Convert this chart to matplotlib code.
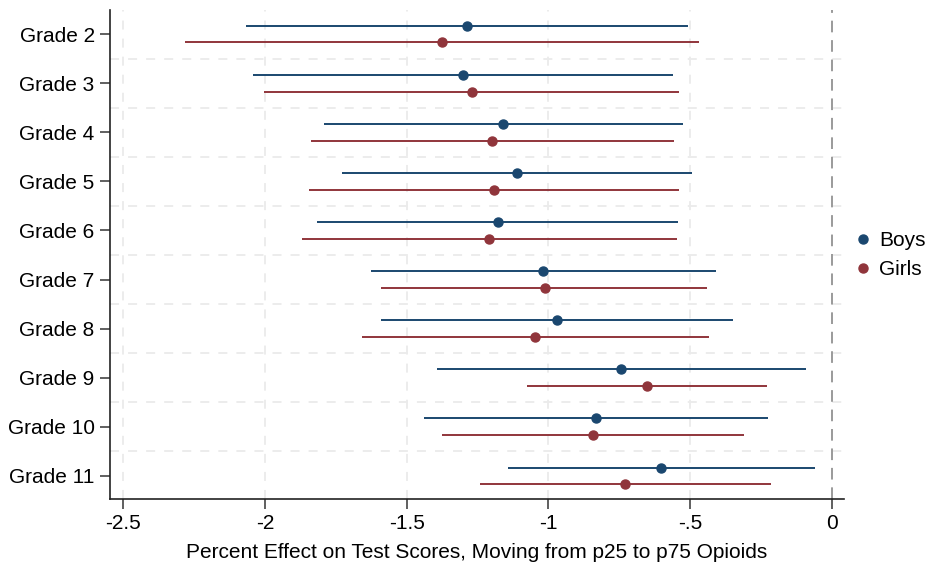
import numpy as np
import matplotlib as mpl
mpl.use('Agg')
import matplotlib.pyplot as plt

plt.rcParams['font.family'] = ['Liberation Sans', 'DejaVu Sans']

grades = ['Grade 2', 'Grade 3', 'Grade 4', 'Grade 5', 'Grade 6',
          'Grade 7', 'Grade 8', 'Grade 9', 'Grade 10', 'Grade 11']

# estimaciones y limites del intervalo
boys_est = [-1.288, -1.303, -1.159, -1.112, -1.179, -1.018, -0.971, -0.743, -0.832, -0.603]
boys_lo = [-2.068, -2.043, -1.791, -1.727, -1.815, -1.627, -1.590, -1.392, -1.438, -1.144]
boys_hi = [-0.507, -0.562, -0.524, -0.495, -0.545, -0.410, -0.350, -0.093, -0.227, -0.061]

girls_est = [-1.376, -1.271, -1.200, -1.193, -1.208, -1.014, -1.046, -0.652, -0.844, -0.730]
girls_lo = [-2.283, -2.002, -1.839, -1.843, -1.869, -1.590, -1.656, -1.074, -1.374, -1.242]
girls_hi = [-0.468, -0.539, -0.558, -0.539, -0.548, -0.440, -0.435, -0.228, -0.311, -0.216]

xticks = [-2.5, -2, -1.5, -1, -0.5, 0]
xticklabels = ['-2.5', '-2', '-1.5', '-1', '-.5', '0']

c_boys = '#1a476f'
c_girls = '#90353b'

fig = plt.figure(figsize=(9.27, 5.63), dpi=100)
ax = fig.add_axes([110/927, 1 - 499/563, (844-110)/927, (499-10)/563])

y = np.arange(len(grades))
off = 0.17

ax.hlines(y - off, boys_lo, boys_hi, color=c_boys, lw=1.4, zorder=3)
ax.plot(boys_est, y - off, 'o', color=c_boys, ms=6.5, zorder=4, label='Boys')
ax.hlines(y + off, girls_lo, girls_hi, color=c_girls, lw=1.4, zorder=3)
ax.plot(girls_est, y + off, 'o', color=c_girls, ms=6.5, zorder=4, label='Girls')

ax.axvline(0, color='#9a9a9a', lw=1.4, ls=(0, (6, 4)), zorder=2)

# rejilla
for xv in xticks[:-1]:
    ax.axvline(xv, color='#ebebeb', lw=1.3, ls=(0, (5, 5)), zorder=1)
for yv in np.arange(0.5, len(grades) - 1, 1.0):
    ax.axhline(yv, color='#ebebeb', lw=1.3, ls=(0, (5, 5)), zorder=1)

ax.set_xlim(-2.546, 0.042)
ax.set_ylim(len(grades) - 1 + 0.47, -0.49)
ax.set_yticks(y)
ax.set_yticklabels(grades, fontsize=15)
ax.set_xticks(xticks)
ax.set_xticklabels(xticklabels, fontsize=15)
ax.set_xlabel('Percent Effect on Test Scores, Moving from p25 to p75 Opioids', fontsize=15, labelpad=7)

for s in ['top', 'right']:
    ax.spines[s].set_visible(False)
for s in ['left', 'bottom']:
    ax.spines[s].set_color('#222222')
    ax.spines[s].set_linewidth(1.2)
ax.tick_params(axis='both', length=7, width=1.2, color='#444444', pad=4)

fig.legend(loc='center left', bbox_to_anchor=(855/927, 1 - 255/563), frameon=False,
           fontsize=15, handletextpad=0.36, labelspacing=0.5, borderpad=0,
           borderaxespad=0, handlelength=0.8)

fig.savefig('out.png', dpi=100)
